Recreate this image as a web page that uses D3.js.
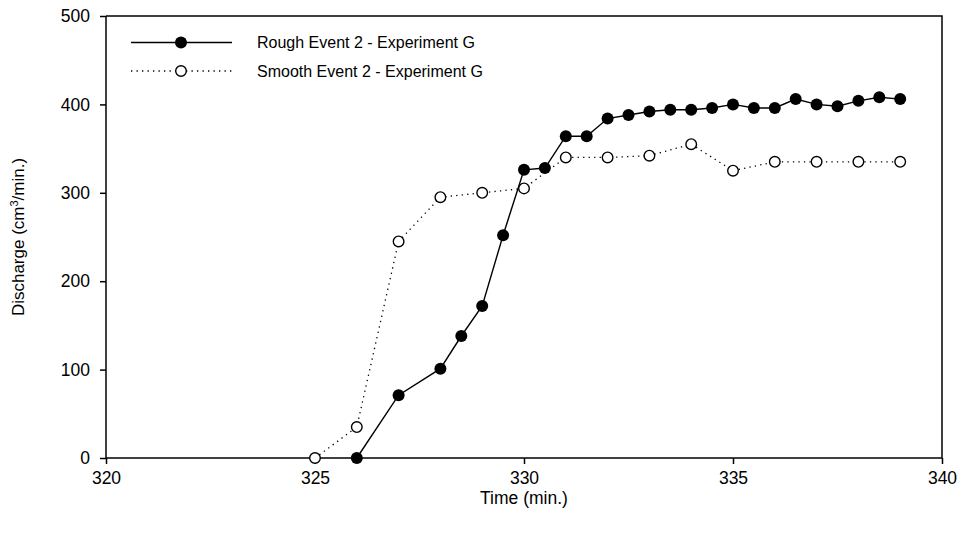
<!DOCTYPE html>
<html>
<head>
<meta charset="utf-8">
<script src="https://cdn.jsdelivr.net/npm/d3@7"></script>
<style>
  body { margin: 0; background: #fff; }
  text { font-family: Arial, "Liberation Sans", sans-serif; fill: #000; }
</style>
</head>
<body>
<div id="chart"></div>
<script>
// data
var roughTime = [326, 327, 328, 328.5, 329, 329.5, 330, 330.5, 331, 331.5, 332, 332.5, 333, 333.5, 334, 334.5, 335, 335.5, 336, 336.5, 337, 337.5, 338, 338.5, 339];
var roughQ = [0, 71, 101, 138, 172, 252, 326, 328, 364, 364, 384, 388, 392, 394, 394, 396, 400, 396, 396, 406, 400, 398, 404, 408, 406];
var smoothTime = [325, 326, 327, 328, 329, 330, 331, 332, 333, 334, 335, 336, 337, 338, 339];
var smoothQ = [0, 35, 245, 295, 300, 305, 340, 340, 342, 355, 325, 335, 335, 335, 335];
var xTicks = [320, 325, 330, 335, 340];
var yTicks = [0, 100, 200, 300, 400, 500];
var seriesNames = ["Rough Event 2 - Experiment G", "Smooth Event 2 - Experiment G"];

var svgWidth = 961;
var svgHeight = 542;
var margin = { top: 16, right: 19, bottom: 84, left: 106 };
var width = svgWidth - margin.left - margin.right;
var height = svgHeight - margin.top - margin.bottom;

var svg = d3.select("#chart")
  .append("svg")
  .attr("width", svgWidth)
  .attr("height", svgHeight);

var chartGroup = svg.append("g")
  .attr("transform", `translate(${margin.left}, ${margin.top})`);

var x = d3.scaleLinear().domain([320, 340]).range([0, width]);
var y = d3.scaleLinear().domain([0, 500]).range([height, 0]);

// frame (top and right)
chartGroup.append("path")
  .attr("d", `M0,0H${width}V${height}`)
  .attr("fill", "none")
  .attr("stroke", "#000")
  .attr("stroke-width", 1.5);

var bottomAxis = d3.axisBottom(x).tickValues(xTicks).tickSize(6).tickPadding(8).tickFormat(d3.format("d"));
var leftAxis = d3.axisLeft(y).tickValues(yTicks).tickSize(6).tickPadding(10).tickFormat(d3.format("d"));

var gx = chartGroup.append("g")
  .attr("transform", `translate(0, ${height})`)
  .call(bottomAxis);
var gy = chartGroup.append("g").call(leftAxis);

[gx, gy].forEach(function(g) {
  g.select(".domain").attr("stroke", "#000").attr("stroke-width", 1.5);
  g.selectAll(".tick line").attr("stroke", "#000").attr("stroke-width", 1.5);
  g.selectAll(".tick text")
    .style("font-family", "Arial, 'Liberation Sans', sans-serif")
    .style("font-size", "17.5px")
    .attr("fill", "#000");
});
gx.select(".domain").attr("d", `M0,0H${width}`);
gy.select(".domain").attr("d", `M0,${height}V0`);

// lines
var lineRough = d3.line().x(function(d, i) { return x(roughTime[i]); }).y(function(d) { return y(d); });
var lineSmooth = d3.line().x(function(d, i) { return x(smoothTime[i]); }).y(function(d) { return y(d); });

chartGroup.append("path")
  .attr("d", lineSmooth(smoothQ))
  .attr("fill", "none")
  .attr("stroke", "#000")
  .attr("stroke-width", 1.3)
  .attr("stroke-dasharray", "1.3,4.2");

chartGroup.append("path")
  .attr("d", lineRough(roughQ))
  .attr("fill", "none")
  .attr("stroke", "#000")
  .attr("stroke-width", 1.4);

chartGroup.selectAll(".smooth")
  .data(smoothQ)
  .enter()
  .append("circle")
  .attr("class", "smooth")
  .attr("cx", function(d, i) { return x(smoothTime[i]); })
  .attr("cy", function(d) { return y(d); })
  .attr("r", 5.3)
  .attr("fill", "#fff")
  .attr("stroke", "#000")
  .attr("stroke-width", 1.4);

chartGroup.selectAll(".rough")
  .data(roughQ)
  .enter()
  .append("circle")
  .attr("class", "rough")
  .attr("cx", function(d, i) { return x(roughTime[i]); })
  .attr("cy", function(d) { return y(d); })
  .attr("r", 6)
  .attr("fill", "#000");

// legend
var legend = svg.append("g");
legend.append("line")
  .attr("x1", 131).attr("x2", 232).attr("y1", 42.5).attr("y2", 42.5)
  .attr("stroke", "#000").attr("stroke-width", 1.4);
legend.append("circle").attr("cx", 181).attr("cy", 42.5).attr("r", 6).attr("fill", "#000");
legend.append("line")
  .attr("x1", 131).attr("x2", 232).attr("y1", 71).attr("y2", 71)
  .attr("stroke", "#000").attr("stroke-width", 1.3).attr("stroke-dasharray", "1.3,4.2");
legend.append("circle").attr("cx", 181).attr("cy", 71).attr("r", 5.3)
  .attr("fill", "#fff").attr("stroke", "#000").attr("stroke-width", 1.4);
legend.selectAll("text")
  .data(seriesNames)
  .enter()
  .append("text")
  .attr("x", 257)
  .attr("y", function(d, i) { return 48 + i * 28.5; })
  .style("font-size", "16px")
  .text(function(d) { return d; });

// axis titles
svg.append("text")
  .attr("x", margin.left + width / 2)
  .attr("y", 504)
  .attr("text-anchor", "middle")
  .style("font-size", "17.5px")
  .text("Time (min.)");

var yTitle = svg.append("text")
  .attr("transform", `translate(24, ${margin.top + height / 2}) rotate(-90)`)
  .attr("text-anchor", "middle")
  .style("font-size", "17px");
yTitle.append("tspan").text("Discharge (cm");
yTitle.append("tspan").attr("dy", -6).style("font-size", "11px").text("3");
yTitle.append("tspan").attr("dy", 6).text("/min.)");
</script>
</body>
</html>
